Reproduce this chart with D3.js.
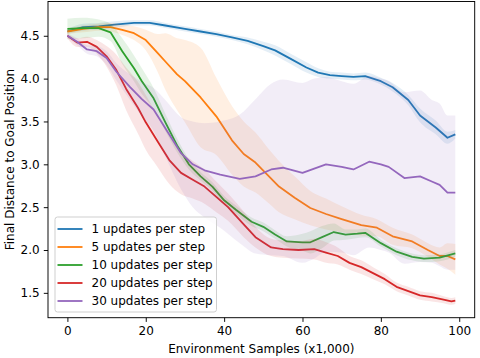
<!DOCTYPE html>
<html>
<head>
<meta charset="utf-8">
<script src="https://cdn.jsdelivr.net/npm/d3@7"></script>
<style>
  html, body { margin: 0; padding: 0; background: #fff; }
  svg { display: block; font-family: "DejaVu Sans", sans-serif; }
</style>
</head>
<body>
<div id="chart"></div>
<script>
// values
const labels = ["1 updates per step", "5 updates per step", "10 updates per step", "20 updates per step", "30 updates per step"];
const colors = ["#1f77b4", "#ff7f0e", "#2ca02c", "#d62728", "#9467bd"];

const x1 = [0,4,8,12,17,21,25,30,34,38,42,46,50,53,57,61,64,67,70,73,76,80,83,87,90,94,97,99];
const mean1 = [4.55,4.60,4.61,4.63,4.65,4.65,4.62,4.58,4.55,4.52,4.48,4.44,4.38,4.33,4.23,4.13,4.07,4.04,4.03,4.02,4.03,3.97,3.90,3.75,3.57,3.43,3.31,3.35];
const sd1 = [0.03,0.04,0.04,0.04,0.03,0.03,0.03,0.03,0.03,0.03,0.03,0.04,0.05,0.06,0.06,0.06,0.05,0.04,0.04,0.04,0.04,0.04,0.05,0.06,0.08,0.08,0.07,0.05];

const x5 = [0,4,8,11,14,17,20,23,25,28,30,34,38,42,45,48,51,54,58,62,66,70,75,79,83,88,92,95,97,99];
const mean5 = [4.55,4.58,4.60,4.60,4.57,4.53,4.45,4.30,4.20,4.05,3.97,3.78,3.56,3.28,3.12,3.02,2.88,2.74,2.61,2.49,2.42,2.36,2.29,2.26,2.16,2.10,2.00,1.93,1.93,1.89];
const sd5 = [0.03,0.04,0.04,0.05,0.06,0.08,0.12,0.22,0.33,0.42,0.48,0.58,0.45,0.4,0.38,0.35,0.32,0.3,0.25,0.2,0.18,0.15,0.12,0.1,0.1,0.08,0.08,0.1,0.15,0.18];

const x10 = [0,4,8,11,14,17,19,22,25,28,31,34,37,40,43,47,50,53,56,60,62,65,68,71,74,76,80,84,88,91,95,99];
const mean10 = [4.58,4.59,4.59,4.54,4.32,4.12,3.97,3.77,3.49,3.22,3.00,2.86,2.74,2.58,2.47,2.33,2.27,2.18,2.10,2.09,2.09,2.15,2.21,2.18,2.19,2.20,2.08,1.98,1.92,1.90,1.91,1.96];
const sd10 = [0.12,0.12,0.1,0.1,0.15,0.15,0.15,0.12,0.1,0.08,0.06,0.05,0.05,0.05,0.05,0.05,0.05,0.05,0.06,0.1,0.13,0.13,0.1,0.06,0.05,0.05,0.04,0.04,0.04,0.04,0.04,0.04];

const x20 = [0,2.5,5,7.5,10,12.5,15,18,20,23,26,29,32,35,38,41,45,48,52,55,59,63,66,69,72,75,78,81,84,87,90,93,96,98,99];
const mean20 = [4.50,4.42,4.43,4.37,4.26,4.10,3.88,3.66,3.49,3.27,3.05,2.90,2.82,2.74,2.62,2.50,2.30,2.15,2.03,2.01,2.00,2.01,1.97,1.93,1.85,1.80,1.73,1.66,1.57,1.52,1.47,1.45,1.42,1.40,1.41];
const sd20 = [0.03,0.05,0.06,0.08,0.12,0.18,0.25,0.3,0.32,0.3,0.28,0.25,0.22,0.2,0.18,0.16,0.15,0.12,0.1,0.1,0.1,0.12,0.12,0.1,0.08,0.08,0.07,0.06,0.05,0.05,0.05,0.05,0.04,0.04,0.04];

const x30 = [0,2.5,5,7.5,10,12.5,16,19,22,25,29,32,35,39,44,48,52,55,60,63,66,70,73,77,80,82,86,90,93,95,97,99];
const mean30 = [4.50,4.43,4.34,4.32,4.24,4.08,3.90,3.76,3.64,3.42,3.13,3.00,2.93,2.88,2.83,2.86,2.94,2.96,2.90,2.95,3.00,2.97,2.94,3.03,3.00,2.97,2.84,2.86,2.80,2.76,2.67,2.67];
const sd30 = [0.03,0.04,0.05,0.06,0.08,0.1,0.15,0.2,0.25,0.33,0.42,0.5,0.55,0.62,0.75,0.9,1.0,1.03,1.05,1.05,1.02,1.0,1.0,1.0,1.0,1.0,1.0,1.0,0.95,0.95,0.9,0.9];

const xTicks = [0, 20, 40, 60, 80, 100];
const yTicks = [1.5, 2.0, 2.5, 3.0, 3.5, 4.0, 4.5];

const xs = [x1, x5, x10, x20, x30];
const means = [mean1, mean5, mean10, mean20, mean30];
const sds = [sd1, sd5, sd10, sd20, sd30];

const W = 480, H = 358;
const margin = { top: 1.5, right: 5.3, bottom: 40.3, left: 48 };
const fontSize = "12px";

const svg = d3.select("#chart").append("svg")
    .attr("width", W)
    .attr("height", H);

const x = d3.scaleLinear().domain([-4.95, 103.95]).range([margin.left, W - margin.right]);
const y = d3.scaleLinear().domain([1.21, 4.90]).range([H - margin.bottom, margin.top]);

const plot = svg.append("g");

// one band + line per series
xs.forEach((xv, i) => {
    const rows = xv.map((v, j) => ({ x: v, m: means[i][j], s: sds[i][j] }));

    const area = d3.area()
        .x(d => x(d.x))
        .y0(d => y(d.m - d.s))
        .y1(d => y(d.m + d.s))
        .curve(d3.curveMonotoneX);

    const line = d3.line()
        .x(d => x(d.x))
        .y(d => y(d.m));

    plot.append("path")
        .datum(rows)
        .attr("d", area)
        .attr("fill", colors[i])
        .attr("fill-opacity", 0.12);

    plot.append("path")
        .datum(rows)
        .attr("d", line)
        .attr("fill", "none")
        .attr("stroke", colors[i])
        .attr("stroke-width", 1.8)
        .attr("stroke-linejoin", "round");
});

// axes
const xAxis = d3.axisBottom(x).tickValues(xTicks).tickSize(4.2).tickPadding(4.2).tickFormat(d3.format("d"));
const yAxis = d3.axisLeft(y).tickValues(yTicks).tickSize(4.2).tickPadding(4.2).tickFormat(d3.format(".1f"));

const gx = svg.append("g")
    .attr("transform", `translate(0,${H - margin.bottom})`)
    .call(xAxis);
const gy = svg.append("g")
    .attr("transform", `translate(${margin.left},0)`)
    .call(yAxis);

[gx, gy].forEach(g => {
    g.select(".domain").remove();
    g.selectAll(".tick line").attr("stroke", "#000").attr("stroke-width", 0.95);
    g.selectAll(".tick text")
        .attr("fill", "#000")
        .style("font-family", "DejaVu Sans")
        .style("font-size", fontSize);
});

// frame
svg.append("rect")
    .attr("x", margin.left)
    .attr("y", margin.top)
    .attr("width", W - margin.left - margin.right)
    .attr("height", H - margin.top - margin.bottom)
    .attr("fill", "none")
    .attr("stroke", "#000")
    .attr("stroke-width", 0.95);

// axis labels
svg.append("text")
    .attr("x", (margin.left + W - margin.right) / 2)
    .attr("y", 353)
    .attr("text-anchor", "middle")
    .style("font-size", fontSize)
    .text("Environment Samples (x1,000)");

svg.append("text")
    .attr("transform", `translate(14,${(margin.top + H - margin.bottom) / 2}) rotate(-90)`)
    .attr("text-anchor", "middle")
    .style("font-size", fontSize)
    .text("Final Distance to Goal Position");

// legend
const legend = svg.append("g").attr("transform", "translate(55,217)");

legend.append("rect")
    .attr("width", 161.5)
    .attr("height", 95)
    .attr("rx", 2.5)
    .attr("fill", "#fff")
    .attr("fill-opacity", 0.8)
    .attr("stroke", "#cccccc")
    .attr("stroke-width", 0.95);

labels.forEach((lab, i) => {
    const cy = 12 + i * 18;
    legend.append("line")
        .attr("x1", 2.5)
        .attr("x2", 27.5)
        .attr("y1", cy)
        .attr("y2", cy)
        .attr("stroke", colors[i])
        .attr("stroke-width", 1.8);
    legend.append("text")
        .attr("x", 36.5)
        .attr("y", cy)
        .attr("dy", "0.35em")
        .style("font-size", fontSize)
        .text(lab);
});
</script>
</body>
</html>
